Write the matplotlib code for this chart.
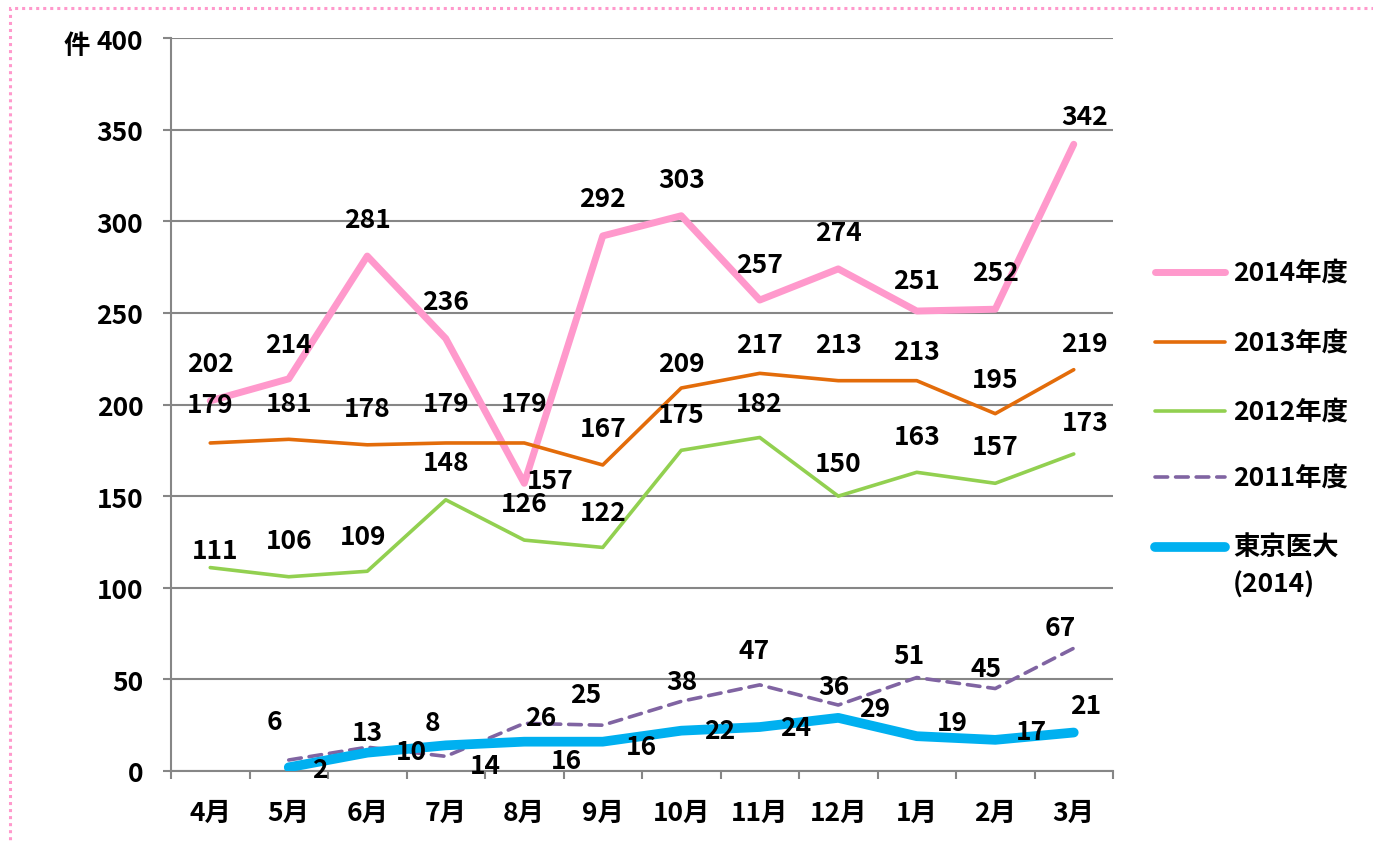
import numpy as np
import matplotlib
matplotlib.use("Agg")
import matplotlib.pyplot as plt
from matplotlib.lines import Line2D
from matplotlib.patches import Rectangle

plt.rcParams['font.family'] = ['Noto Sans CJK JP', 'DejaVu Sans']

months = ['4月', '5月', '6月', '7月', '8月', '9月', '10月', '11月', '12月', '1月', '2月', '3月']
fy2014 = [202, 214, 281, 236, 157, 292, 303, 257, 274, 251, 252, 342]
fy2013 = [179, 181, 178, 179, 179, 167, 209, 217, 213, 213, 195, 219]
fy2012 = [111, 106, 109, 148, 126, 122, 175, 182, 150, 163, 157, 173]
fy2011 = [np.nan, 6, 13, 8, 26, 25, 38, 47, 36, 51, 45, 67]
tokyo2014 = [np.nan, 2, 10, 14, 16, 16, 22, 24, 29, 19, 17, 21]
series_names = ['2014年度', '2013年度', '2012年度', '2011年度', '東京医大\n(2014)']
yticks = [0, 50, 100, 150, 200, 250, 300, 350, 400]

# label offsets in pixels (dx, dy up)
off_2014 = [(0, 37), (0, 34), (0, 37), (0, 37), (26, 3), (0, 37), (0, 36), (0, 36), (0, 36), (0, 31), (0, 37), (11, 28)]
off_2013 = [(0, 38), (0, 36), (0, 36), (0, 39), (0, 39), (0, 36), (0, 25), (0, 29), (0, 36), (0, 29), (0, 34), (11, 26)]
off_2012 = [(5, 17), (0, 36), (-4, 35), (0, 37), (0, 37), (0, 35), (0, 36), (0, 34), (0, 33), (0, 36), (0, 37), (11, 31)]
off_2011 = [None, (-14, 39), (0, 15), (-13, 34), (16, 6), (-17, 31), (1, 20), (-6, 34), (-4, 19), (-8, 22), (-9, 20), (-13, 21)]
off_tokyo = [None, (31, -2), (44, 1), (40, -20), (42, -19), (39, -5), (38, 0), (36, 0), (36, 9), (36, 14), (36, 8), (12, 27)]

W, H = 1373, 845
fig = plt.figure(figsize=(W / 100, H / 100), dpi=100)
ax = fig.add_axes([171 / W, 1 - 772 / H, (1113 - 171) / W, (772 - 39) / H])

x = np.arange(len(months))
grid_c = '#868686'
fs = 19

styles = [
    dict(color='#FF99CC', lw=5.0, ls='-'),
    dict(color='#E36C0A', lw=2.6, ls='-'),
    dict(color='#92D050', lw=2.6, ls='-'),
    dict(color='#8064A2', lw=2.6, ls=(0, (3.5, 2.2))),
    dict(color='#00B0F0', lw=7.0, ls='-'),
]
data = [fy2014, fy2013, fy2012, fy2011, tokyo2014]
offs = [off_2014, off_2013, off_2012, off_2011, off_tokyo]

for ys, st in zip(data, styles):
    ax.plot(x, ys, color=st['color'], lw=st['lw'], ls=st['ls'],
            solid_capstyle='round', dash_capstyle='round', zorder=3)

for ys, of in zip(data, offs):
    for xi, (v, o) in enumerate(zip(ys, of)):
        if o is None or np.isnan(v):
            continue
        ax.annotate(f'{int(v)}', (xi, v), xytext=o, textcoords='offset pixels',
                    ha='center', va='center', fontsize=fs, fontweight='bold',
                    zorder=5)

ax.set_xlim(-0.5, len(months) - 0.5)
ax.set_ylim(0, 400)
ax.set_yticks(yticks)
ax.set_yticklabels([str(t) for t in yticks])
ax.set_xticks(x)
ax.set_xticklabels(months)
ax.set_xticks(np.arange(-0.5, len(months)), minor=True)
ax.tick_params(axis='x', which='major', length=0, pad=20, labelsize=fs)
ax.tick_params(axis='x', which='minor', length=6, width=1.5, color=grid_c, direction='out')
ax.tick_params(axis='y', which='major', length=6, width=1.5, color=grid_c, pad=14, labelsize=fs)
for lab in ax.get_xticklabels() + ax.get_yticklabels():
    lab.set_fontweight('bold')

ax.grid(axis='y', color=grid_c, lw=1.5, zorder=0)
ax.set_axisbelow(True)
for s in ['top', 'right']:
    ax.spines[s].set_visible(False)
for s in ['left', 'bottom']:
    ax.spines[s].set_color(grid_c)
    ax.spines[s].set_linewidth(1.5)

# y unit label
fig.text(77 / W, 1 - 47 / H, '件', ha='center', va='center', fontsize=fs, fontweight='bold')

# manual legend
leg_y = [273, 343, 412, 478, 548]
for (yy, st, name) in zip(leg_y, styles, series_names):
    fig.add_artist(Line2D([1155 / W, 1225 / W], [1 - yy / H, 1 - yy / H],
                          color=st['color'], lw=st['lw'], ls=st['ls'],
                          solid_capstyle='round', dash_capstyle='round'))
    fig.text(1233 / W, 1 - yy / H, name, ha='left', va='top' if '\n' in name else 'center',
             fontsize=fs, fontweight='bold', linespacing=1.4,
             transform=fig.transFigure) if '\n' not in name else None
    if '\n' in name:
        l1, l2 = name.split('\n')
        fig.text(1233 / W, 1 - yy / H, l1, ha='left', va='center', fontsize=fs, fontweight='bold')
        fig.text(1233 / W, 1 - 585 / H, l2, ha='left', va='center', fontsize=fs, fontweight='bold')

# pink dotted border
fig.add_artist(Rectangle((10 / W, -0.05), 1.1, 1 - 9 / H + 0.05, transform=fig.transFigure,
                         fill=False, edgecolor='#FF99CC', lw=2.2, ls=(0, (1, 1.3))))

fig.savefig('out.png', dpi=100)
